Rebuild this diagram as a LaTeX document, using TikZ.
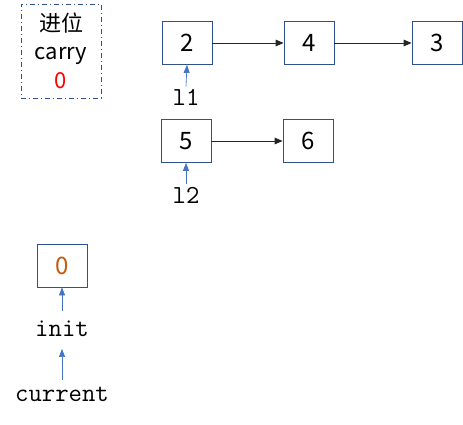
\documentclass[tikz,border=0pt]{standalone}
\usepackage{fontspec}
\setmainfont{Noto Sans CJK SC}
\newfontfamily\cjkfont{Noto Sans CJK SC}
\usetikzlibrary{arrows.meta}
\definecolor{boxblue}{RGB}{47,82,143}
\definecolor{ptrblue}{RGB}{68,114,196}
\definecolor{zeroorange}{RGB}{197,90,17}
\tikzset{
  listbox/.style={draw=boxblue, line width=0.6pt, minimum width=37.5pt, minimum height=32.25pt, inner sep=0pt, font=\fontsize{18}{20}\selectfont},
  nextarrow/.style={draw=black!85, line width=0.6pt, -{Triangle[length=6pt,width=5pt]}},
  ptrarrow/.style={draw=ptrblue, line width=0.5pt, -{Triangle[length=6pt,width=4.5pt]}},
  ptrlabel/.style={font=\ttfamily\fontsize{19.5}{21}\selectfont, inner sep=2pt, anchor=base},
  carrytext/.style={font=\fontsize{16.5}{18}\selectfont, inner sep=0pt}
}
\begin{document}
\begin{tikzpicture}[x=0.75pt,y=-0.75pt]
\useasboundingbox (0,0) rectangle (463,424);
% carry box
\node[draw=boxblue, line width=0.6pt, dash pattern=on 4pt off 2pt on 1pt off 2pt, minimum width=60pt, minimum height=70.5pt, inner sep=0pt] (carrybox) at (61,51) {};
\node[carrytext] (carrycn) at (61,23) {\cjkfont 进位};
\node[carrytext, anchor=base] (carryen) at (61,60) {carry};
\node[carrytext, anchor=base, text=red] (carryval) at (61,89) {0};
% list 1
\node[listbox] (b2) at (187,43) {2};
\node[listbox] (b4) at (309,43) {4};
\node[listbox] (b3) at (437,43) {3};
% list 2
\node[listbox] (b5) at (186,141) {5};
\node[listbox] (b6) at (308,141) {6};
% init node
\node[listbox, text=zeroorange] (b0) at (62,265.5) {0};
% labels
\node[ptrlabel] (l1) at (186,105.5) {l1};
\node[ptrlabel] (l2) at (186,203.5) {l2};
\node[ptrlabel] (init) at (62,336.5) {init};
\node[ptrlabel] (current) at (62,401.5) {current};
% next arrows
\draw[nextarrow] (b2) -- (b4);
\draw[nextarrow] (b4) -- (b3);
\draw[nextarrow] (b5) -- (b6);
% pointer arrows
\draw[ptrarrow] (l1.north) -- (b2.south);
\draw[ptrarrow] (l2.north) -- (b5.south);
\draw[ptrarrow, shorten <=5pt] (init.north) -- (b0.south);
\draw[ptrarrow, shorten >=7pt, shorten <=3pt] (current.north) -- (init.south);
\end{tikzpicture}
\end{document}
